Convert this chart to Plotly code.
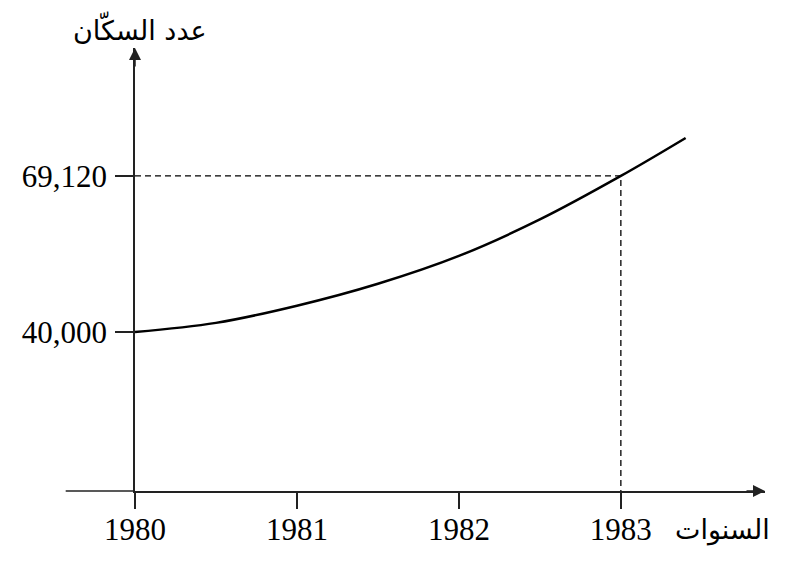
import plotly.graph_objects as go

# Values
years = [1980, 1980.5, 1981, 1981.5, 1982, 1982.5, 1983, 1983.4]
population = [40000, 41700, 44900, 49000, 54200, 61000, 69120, 76200]

year_ticks = [1980, 1981, 1982, 1983]
pop_ticks = [40000, 69120]
pop_labels = ["40,000", "69,120"]

marked_year = 1983
marked_pop = 69120

x_range = [1980, 1983.89]
y_range = [10320, 93000]

fig = go.Figure()

# Dashed guide lines to the marked point
fig.add_trace(go.Scatter(
    x=[x_range[0], marked_year, marked_year],
    y=[marked_pop, marked_pop, y_range[0]],
    mode="lines",
    line=dict(color="black", width=1.3, dash="6px,4px"),
    hoverinfo="skip",
))

# Growth curve
fig.add_trace(go.Scatter(
    x=years,
    y=population,
    mode="lines",
    line=dict(color="black", width=2.5, shape="spline", smoothing=1),
))

axis_font = dict(family="Liberation Serif, Times New Roman, serif", size=31, color="black")
arabic_font = dict(family="DejaVu Sans, sans-serif", size=27, color="black")

fig.update_xaxes(
    range=x_range,
    tickvals=year_ticks,
    ticks="outside",
    ticklen=16,
    tickwidth=1.5,
    tickcolor="#222",
    showline=True,
    linecolor="#222",
    linewidth=1.5,
    showgrid=False,
    zeroline=False,
    tickfont=axis_font,
    ticklabelstandoff=-6,
)
fig.update_yaxes(
    range=y_range,
    tickvals=pop_ticks,
    ticktext=pop_labels,
    ticks="outside",
    ticklen=18,
    tickwidth=1.5,
    tickcolor="#222",
    showline=True,
    linecolor="#222",
    linewidth=1.5,
    showgrid=False,
    zeroline=False,
    tickfont=axis_font,
    ticklabelstandoff=2,
)

# x axis continues a little left of the y axis
fig.add_shape(
    type="line", xref="paper", yref="paper",
    x0=-0.11, x1=0, y0=0, y1=0,
    line=dict(color="#222", width=1.5),
)

# Arrow heads
fig.add_annotation(
    x=1, y=0, xref="paper", yref="paper",
    ax=-20, ay=0, showarrow=True,
    arrowhead=2, arrowsize=1.6, arrowwidth=1.5, arrowcolor="#222", text="",
)
fig.add_annotation(
    x=0, y=1, xref="paper", yref="paper",
    ax=0, ay=20, showarrow=True,
    arrowhead=2, arrowsize=1.6, arrowwidth=1.5, arrowcolor="#222", text="",
)

# Axis titles
fig.add_annotation(
    x=0.008, y=1, xref="paper", yref="paper",
    yshift=20, text="عدد السكّان", showarrow=False,
    xanchor="center", yanchor="middle", font=arabic_font,
)
fig.add_annotation(
    x=1, y=0, xref="paper", yref="paper",
    xshift=7, yshift=-39, text="السنوات", showarrow=False,
    xanchor="right", yanchor="middle", font=arabic_font,
)

# the page adds an 8px body margin, so the plot box is placed 8px up/left
fig.update_layout(
    width=790,
    height=580,
    margin=dict(l=127, r=33, t=40, b=97),
    plot_bgcolor="white",
    paper_bgcolor="white",
    showlegend=False,
)

fig.write_html("out.html")
